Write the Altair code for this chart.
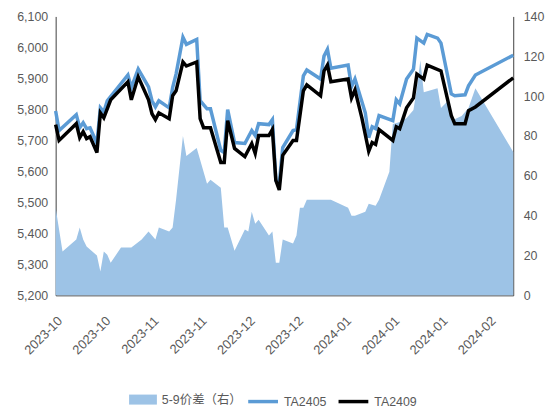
import altair as alt
import pandas as pd

# ---------------- data ----------------
spread_label = "5-9价差（右）"
line_labels = ["TA2405", "TA2409"]

spread_dates = [
    "2023-10-09", "2023-10-11", "2023-10-15", "2023-10-16", "2023-10-17", "2023-10-18",
    "2023-10-21", "2023-10-22", "2023-10-23", "2023-10-24", "2023-10-25", "2023-10-28",
    "2023-10-31", "2023-11-03", "2023-11-05", "2023-11-06", "2023-11-07", "2023-11-08",
    "2023-11-11", "2023-11-12", "2023-11-13", "2023-11-15", "2023-11-16", "2023-11-19",
    "2023-11-22", "2023-11-23", "2023-11-26", "2023-11-27", "2023-11-28", "2023-11-30",
    "2023-12-03", "2023-12-04", "2023-12-05", "2023-12-06", "2023-12-07", "2023-12-10",
    "2023-12-11", "2023-12-12", "2023-12-13", "2023-12-14", "2023-12-17", "2023-12-18",
    "2023-12-19", "2023-12-20", "2023-12-21", "2023-12-28", "2024-01-02", "2024-01-03",
    "2024-01-04", "2024-01-07", "2024-01-08", "2024-01-10", "2024-01-11", "2024-01-14",
    "2024-01-15", "2024-01-17", "2024-01-19", "2024-01-21", "2024-01-22", "2024-01-23",
    "2024-01-24", "2024-01-28", "2024-01-29", "2024-01-31", "2024-02-01", "2024-02-04",
    "2024-02-06", "2024-02-08", "2024-02-19",
]
spread_values = [
    44, 22, 28, 34, 28, 24.5,
    20, 12, 22, 20.4, 16.4, 24,
    24, 28, 32, 30, 28, 34,
    32, 34, 48, 80, 70, 74,
    56, 58, 54, 34, 34, 22.4,
    33, 32, 42, 36, 38, 30,
    32, 16.4, 16.4, 28, 26, 30,
    44, 44, 48, 48, 44, 40,
    40, 42, 46, 45, 48, 62,
    86, 87, 89, 93, 104, 118,
    102, 104, 94, 97.6, 87.6, 90,
    94, 104, 72,
]

ta2405_dates = [
    "2023-10-09", "2023-10-10", "2023-10-15", "2023-10-16", "2023-10-17", "2023-10-18",
    "2023-10-19", "2023-10-21", "2023-10-22", "2023-10-23", "2023-10-24", "2023-10-30",
    "2023-10-31", "2023-11-02", "2023-11-05", "2023-11-06", "2023-11-07", "2023-11-08",
    "2023-11-11", "2023-11-12", "2023-11-13", "2023-11-15", "2023-11-16", "2023-11-19",
    "2023-11-20", "2023-11-22", "2023-11-23", "2023-11-26", "2023-11-27", "2023-11-28",
    "2023-11-30", "2023-12-03", "2023-12-05", "2023-12-06", "2023-12-07", "2023-12-10",
    "2023-12-11", "2023-12-12", "2023-12-13", "2023-12-14", "2023-12-17", "2023-12-18",
    "2023-12-20", "2023-12-21", "2023-12-25", "2023-12-26", "2023-12-27", "2023-12-28",
    "2024-01-02", "2024-01-03", "2024-01-04", "2024-01-07", "2024-01-08", "2024-01-09",
    "2024-01-10", "2024-01-11", "2024-01-15", "2024-01-16", "2024-01-17", "2024-01-19",
    "2024-01-21", "2024-01-22", "2024-01-24", "2024-01-25", "2024-01-28", "2024-01-29",
    "2024-02-01", "2024-02-02", "2024-02-05", "2024-02-06", "2024-02-08", "2024-02-19",
]
ta2405_values = [
    5795, 5732, 5783, 5741, 5757, 5738,
    5741, 5690, 5805, 5792, 5828, 5911,
    5870, 5930, 5873, 5828, 5808, 5828,
    5805, 5870, 5914, 6033, 6010, 6026,
    5828, 5802, 5802, 5668, 5661, 5799,
    5693, 5690, 5732, 5716, 5754, 5751,
    5767, 5571, 5562, 5677, 5732, 5735,
    5908, 5927, 5898, 5972, 5994, 5933,
    5943, 5873, 5898, 5789, 5709, 5744,
    5738, 5780, 5764, 5831, 5818, 5898,
    5930, 6030, 6014, 6042, 6030, 6014,
    5850, 5844, 5847, 5876, 5911, 5975,
]

ta2409_dates = [
    "2023-10-09", "2023-10-10", "2023-10-15", "2023-10-16", "2023-10-17", "2023-10-18",
    "2023-10-19", "2023-10-21", "2023-10-22", "2023-10-23", "2023-10-25", "2023-10-30",
    "2023-10-31", "2023-11-02", "2023-11-05", "2023-11-06", "2023-11-07", "2023-11-08",
    "2023-11-11", "2023-11-12", "2023-11-13", "2023-11-15", "2023-11-16", "2023-11-19",
    "2023-11-20", "2023-11-21", "2023-11-23", "2023-11-26", "2023-11-27", "2023-11-28",
    "2023-11-30", "2023-12-03", "2023-12-05", "2023-12-06", "2023-12-07", "2023-12-10",
    "2023-12-11", "2023-12-12", "2023-12-13", "2023-12-14", "2023-12-17", "2023-12-18",
    "2023-12-20", "2023-12-21", "2023-12-25", "2023-12-26", "2023-12-27", "2023-12-28",
    "2024-01-02", "2024-01-03", "2024-01-04", "2024-01-06", "2024-01-08", "2024-01-09",
    "2024-01-10", "2024-01-11", "2024-01-15", "2024-01-16", "2024-01-17", "2024-01-19",
    "2024-01-21", "2024-01-22", "2024-01-24", "2024-01-25", "2024-01-29", "2024-02-01",
    "2024-02-02", "2024-02-05", "2024-02-06", "2024-02-08", "2024-02-19",
]
ta2409_values = [
    5751, 5700, 5754, 5709, 5728, 5706,
    5712, 5661, 5789, 5773, 5831, 5889,
    5831, 5905, 5831, 5786, 5767, 5789,
    5770, 5844, 5860, 5953, 5940, 5953,
    5770, 5741, 5741, 5629, 5629, 5764,
    5674, 5648, 5690, 5658, 5716, 5716,
    5735, 5571, 5540, 5652, 5700, 5700,
    5860, 5879, 5844, 5924, 5943, 5889,
    5898, 5837, 5863, 5773, 5665, 5693,
    5687, 5735, 5700, 5744, 5738, 5805,
    5837, 5914, 5898, 5943, 5924, 5780,
    5754, 5754, 5796, 5808, 5902,
]

x_domain = ["2023-10-09", "2024-02-19"]
tick_dates = [
    "2023-10-09", "2023-10-23", "2023-11-06", "2023-11-20", "2023-12-04",
    "2023-12-18", "2024-01-01", "2024-01-15", "2024-01-29", "2024-02-12",
]
left_ticks = list(range(5200, 6101, 100))
right_ticks = list(range(0, 141, 20))

# ---------------- tables ----------------
spread_df = pd.DataFrame({
    "date": pd.to_datetime(spread_dates),
    "value": spread_values,
    "series": spread_label,
})
lines_df = pd.concat([
    pd.DataFrame({"date": pd.to_datetime(ta2405_dates), "value": ta2405_values, "series": line_labels[0]}),
    pd.DataFrame({"date": pd.to_datetime(ta2409_dates), "value": ta2409_values, "series": line_labels[1]}),
], ignore_index=True)


def dt(s):
    y, m, d = (int(p) for p in s.split("-"))
    return alt.DateTime(year=y, month=m, date=d)


FONT = "Liberation Sans, Noto Sans CJK SC, sans-serif"
GRAY = "#595959"
AXIS_LINE = "#404040"

x_enc = alt.X(
    "date:T",
    scale=alt.Scale(domain=[dt(s) for s in x_domain], nice=False),
    axis=alt.Axis(
        values=[dt(s) for s in tick_dates],
        format="%Y-%m",
        labelAngle=-45,
        labelAlign="right",
        labelBaseline="top",
        labelOverlap=False,
        labelFlush=False,
        ticks=False,
        grid=False,
        domainColor=AXIS_LINE,
        labelColor=GRAY,
        labelFont=FONT,
        labelFontSize=13,
        labelPadding=19,
        title=None,
    ),
)

area = alt.Chart(spread_df).mark_area(opacity=1, interpolate="linear").encode(
    x=x_enc,
    y=alt.Y(
        "value:Q",
        scale=alt.Scale(domain=[0, 140], nice=False),
        axis=alt.Axis(
            orient="right",
            values=right_ticks,
            format=".0f",
            ticks=False,
            grid=False,
            domainColor=AXIS_LINE,
            labelColor=GRAY,
            labelFont=FONT,
            labelFontSize=12.5,
            labelPadding=10,
            title=None,
        ),
    ),
    fill=alt.Fill(
        "series:N",
        scale=alt.Scale(domain=[spread_label], range=["#9DC3E6"]),
        legend=alt.Legend(
            title=None,
            orient="none",
            legendX=74,
            legendY=372,
            direction="horizontal",
            symbolType="M-1,-0.36L1,-0.36L1,0.36L-1,0.36Z",
            symbolSize=784,
            symbolStrokeWidth=0,
            symbolOpacity=1,
            labelFont=FONT,
            labelFontSize=12.5,
            labelColor=GRAY,
            labelOffset=5,
            padding=0,
        ),
    ),
)

lines = alt.Chart(lines_df).mark_line(strokeWidth=3.5, interpolate="linear").encode(
    x=x_enc,
    y=alt.Y(
        "value:Q",
        scale=alt.Scale(domain=[5200, 6100], nice=False),
        axis=alt.Axis(
            orient="left",
            values=left_ticks,
            format=",.0f",
            ticks=False,
            grid=False,
            domainColor=AXIS_LINE,
            labelColor=GRAY,
            labelFont=FONT,
            labelFontSize=12.5,
            labelPadding=8,
            title=None,
        ),
    ),
    stroke=alt.Stroke(
        "series:N",
        scale=alt.Scale(domain=line_labels, range=["#5B9BD5", "#000000"]),
        legend=alt.Legend(
            title=None,
            orient="none",
            legendX=192,
            legendY=371,
            direction="horizontal",
            symbolType="stroke",
            symbolSize=900,
            symbolStrokeWidth=3.5,
            labelFont=FONT,
            labelFontSize=12.5,
            labelColor=GRAY,
            labelOffset=4,
            columnPadding=5,
            padding=0,
        ),
    ),
    order=alt.Order("date:T"),
)

chart = (
    alt.layer(area, lines)
    .resolve_scale(y="independent", fill="independent", stroke="independent")
    .properties(
        width=461,
        height=281,
        autosize=alt.AutoSizeParams(type="none"),
        padding={"left": 48, "top": 7, "right": 32, "bottom": 115},
        background="white",
    )
    .configure_view(strokeWidth=0)
)

chart.save("out.html", embed_options={"renderer": "svg", "actions": False})
